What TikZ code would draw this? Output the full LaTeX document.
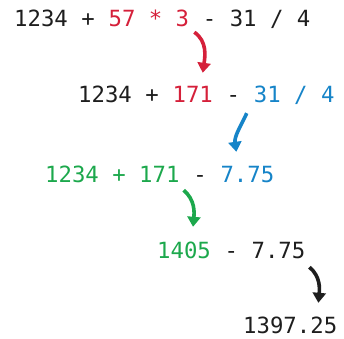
\documentclass[tikz,border=0pt]{standalone}
\usepackage{fontspec}
\newfontfamily\codefont{DejaVu Sans Mono}
\usetikzlibrary{arrows.meta}

\definecolor{stepred}{RGB}{213,32,58}
\definecolor{stepblue}{RGB}{22,132,200}
\definecolor{stepgreen}{RGB}{28,168,76}
\definecolor{codeink}{RGB}{30,30,30}
\newcommand\sep{\hphantom{0}}

\tikzset{
  term/.style={inner sep=0pt, text height=15pt, text depth=0pt, anchor=base west,
    font=\codefont\fontsize{22.3}{26}\selectfont, text=codeink},
  evalarrow/.style={line width=3.6pt, -{Triangle[length=10pt,width=13pt]}},
}

\begin{document}
\begin{tikzpicture}[x=1pt,y=1pt]
  \useasboundingbox (0,0) rectangle (344,338);
  % 1234 + 57 * 3 - 31 / 4
  \node[term] (n1a) at (14,311) {1234 +\sep};
  \node[term,text=stepred] (n1b) at (n1a.base east) {57 * 3};
  \node[term] (n1c) at (n1b.base east) {\sep- 31 / 4};
  % 1234 + 171 - 31 / 4
  \node[term] (n2a) at (78,236) {1234 +\sep};
  \node[term,text=stepred] (n2b) at (n2a.base east) {171};
  \node[term] (n2c) at (n2b.base east) {\sep-\sep};
  \node[term,text=stepblue] (n2d) at (n2c.base east) {31 / 4};
  % 1234 + 171 - 7.75
  \node[term,text=stepgreen] (n3a) at (45,156) {1234 + 171};
  \node[term] (n3b) at (n3a.base east) {\sep-\sep};
  \node[term,text=stepblue] (n3c) at (n3b.base east) {7.75};
  % 1405 - 7.75
  \node[term,text=stepgreen] (n4a) at (157,80) {1405};
  \node[term] (n4b) at (n4a.base east) {\sep- 7.75};
  % 1397.25
  \node[term] (n5) at (243,5) {1397.25};

  \draw[evalarrow,stepred] ([xshift=5pt,yshift=-5pt]n1b.south east)
    to[out=-35,in=82] ([xshift=10pt,yshift=14pt]n2b.north);
  \draw[evalarrow,stepblue] ([xshift=-7pt,yshift=-11pt]n2d.south west)
    to[out=-115,in=98] ([xshift=16pt,yshift=15pt]n3c.north west);
  \draw[evalarrow,stepgreen] ([xshift=4pt,yshift=-8pt]n3a.south east)
    to[out=-40,in=85] ([xshift=9pt,yshift=16pt]n4a.north);
  \draw[evalarrow,codeink] ([xshift=4pt,yshift=-9pt]n4b.south east)
    to[out=-40,in=85] ([xshift=-19pt,yshift=15pt]n5.north east);
\end{tikzpicture}
\end{document}
